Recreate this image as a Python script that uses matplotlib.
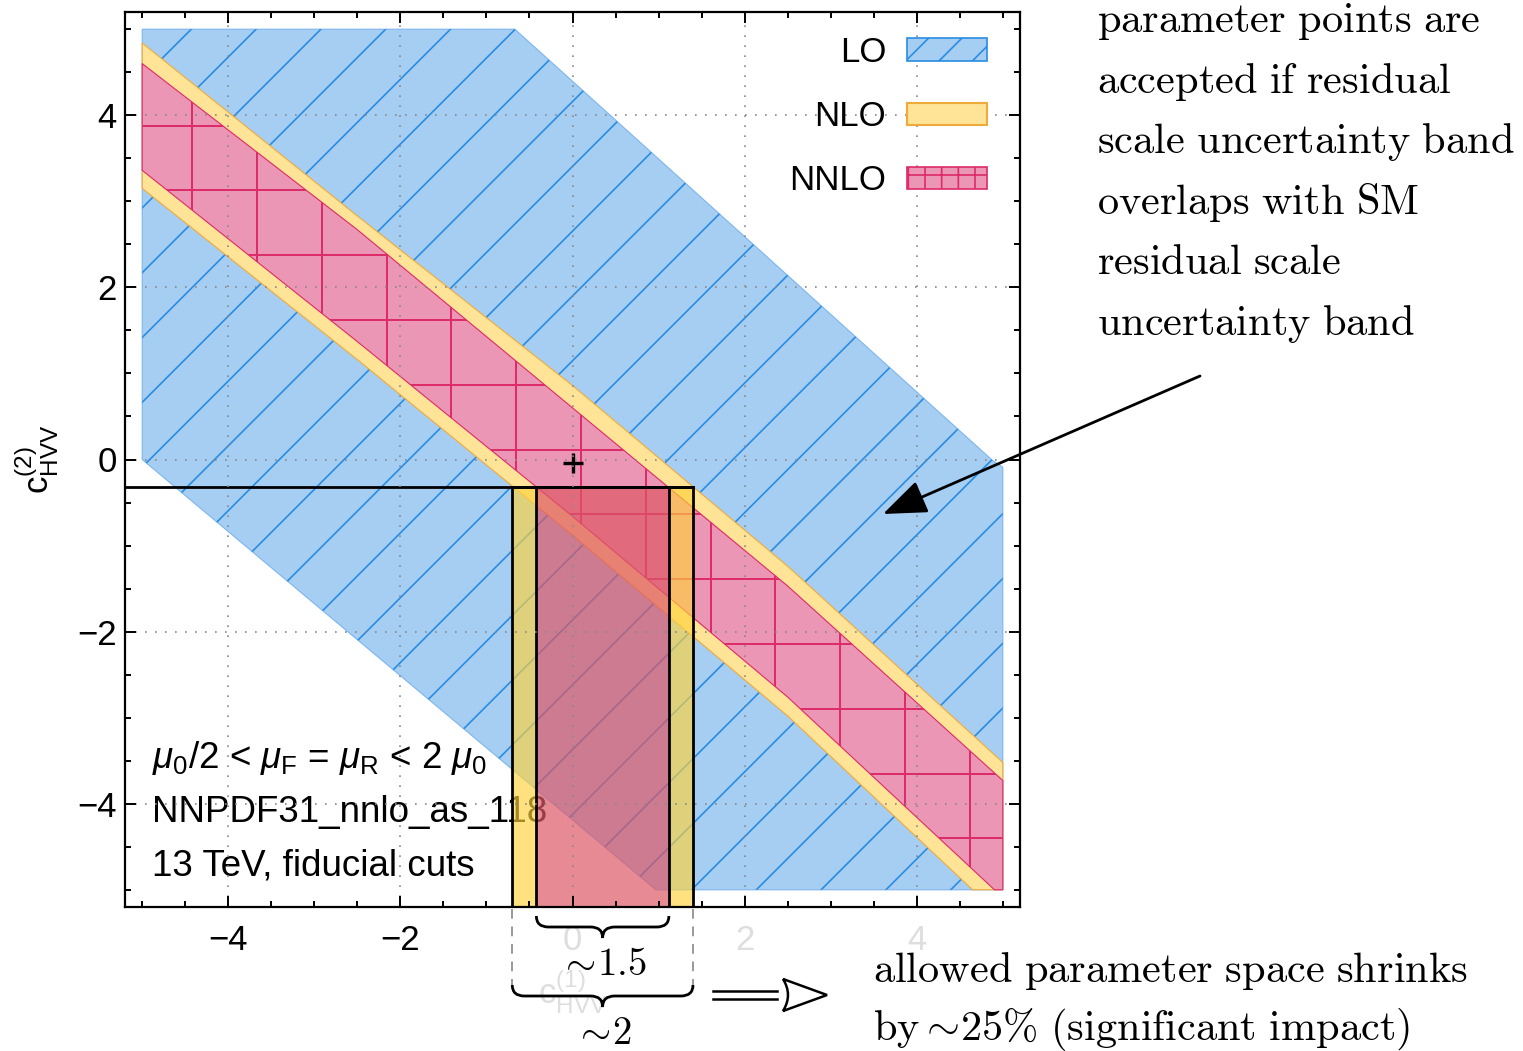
import numpy as np
import matplotlib
matplotlib.use('Agg')
import matplotlib.pyplot as plt
import matplotlib.transforms as mtransforms
from matplotlib.patches import Polygon, Rectangle, PathPatch, Patch
from matplotlib.collections import LineCollection
from matplotlib.path import Path
from matplotlib.transforms import Bbox
from matplotlib.ticker import MultipleLocator

plt.rcParams['font.family'] = ['Liberation Sans', 'DejaVu Sans']
plt.rcParams['mathtext.fontset'] = 'custom'
plt.rcParams['mathtext.rm'] = 'Liberation Sans'
plt.rcParams['mathtext.it'] = 'Liberation Sans:italic'
plt.rcParams['mathtext.bf'] = 'Liberation Sans:bold'
plt.rcParams['hatch.linewidth'] = 1.2

# LO allowed region in the (c1, c2) plane
lo_x = [-5.0, -0.67, 4.88, 5.0, 5.0, 0.97, -5.0]
lo_y = [5.0, 5.0, -0.01, -0.09, -5.0, -5.0, 0.0]

# NLO / NNLO bands, edges sampled along c1
band_x = [-5.0, -2.5, 0.0, 2.5, 5.0]
nlo_upper = [4.84, 2.83, 0.86, -1.24, -3.52]
nnlo_upper = [4.60, 2.67, 0.60, -1.47, -3.73]
nnlo_lower = [3.36, 1.37, -0.66, -2.76, -5.09]
nlo_lower = [3.15, 1.16, -0.88, -2.98, -5.33]

sm_point = (0.0, -0.04)
c2_cut = -0.314
nlo_range = (-0.70, 1.40)
nnlo_range = (-0.42, 1.12)

ticks = [-4, -2, 0, 2, 4]
tick_labels = ['\u22124', '\u22122', '0', '2', '4']

info_lines = [r'$\mu_0$/2 < $\mu_\mathrm{F}$ = $\mu_\mathrm{R}$ < 2 $\mu_0$',
              'NNPDF31_nnlo_as_118',
              '13 TeV, fiducial cuts']
note_lines = ['parameter points are', 'accepted if residual',
              'scale uncertainty band', 'overlaps with SM',
              'residual scale', 'uncertainty band']
result_lines = [r'$\mathrm{allowed\ parameter\ space\ shrinks}$',
                r'$\mathrm{by\sim\!25\%\ (significant\ impact)}$']

LO_FILL, LO_LINE = '#A6CEF3', '#2A8CE0'
NLO_FILL, NLO_LINE = '#FFE397', '#F0AA3A'
NNLO_FILL, NNLO_LINE = '#EC96B5', '#DD2A68'

W, H = 1523, 1051
fig = plt.figure(figsize=(W / 100, H / 100), dpi=100)
ax = fig.add_axes([125 / W, 1 - 907 / H, 895 / W, 895 / H])
ax.set_xlim(-5.2, 5.2)
ax.set_ylim(-5.2, 5.2)
# pixel coordinates measured from the top-left corner of the figure
px = mtransforms.Affine2D().scale(1 / W, -1 / H).translate(0, 1) + fig.transFigure
xpx = mtransforms.blended_transform_factory(ax.transData, px)

box = Bbox([[-5, -5], [5, 5]])


def band_patch(upper, lower, fc, ec):
    verts = list(zip(band_x, upper)) + list(zip(band_x[::-1], lower[::-1]))
    path = Path(verts + [verts[0]], closed=True).clip_to_bbox(box)
    p = PathPatch(path, facecolor=fc, edgecolor=ec, lw=0.8)
    return p


def add_hatch(patch, segs, color, lw, z):
    lc = LineCollection(segs, colors=color, linewidths=lw, zorder=z)
    ax.add_collection(lc)
    lc.set_clip_path(patch)


# LO region with diagonal hatching
lo = Polygon(np.column_stack([lo_x, lo_y]), closed=True, facecolor=LO_FILL,
             edgecolor='#7DB6EC', lw=0.8, zorder=1)
ax.add_patch(lo)
step = 0.753
diag = [[(-6, -6 + c), (6, 6 + c)] for c in np.arange(9.43, -12, -step)]
add_hatch(lo, diag, LO_LINE, 1.2, 1.1)

# NLO band
nlo = band_patch(nlo_upper, nlo_lower, NLO_FILL, NLO_LINE)
nlo.set_zorder(1.2)
ax.add_patch(nlo)

# NNLO band with grid hatching
nnlo = band_patch(nnlo_upper, nnlo_lower, NNLO_FILL, NNLO_LINE)
nnlo.set_zorder(1.3)
ax.add_patch(nnlo)
grid_segs = [[(x, -6), (x, 6)] for x in np.arange(-4.42, 5.5, step)]
grid_segs += [[(-6, y), (6, y)] for y in np.arange(3.88, -5.5, -step)]
add_hatch(nnlo, grid_segs, NNLO_LINE, 1.4, 1.4)

# info text
for i, line in enumerate(info_lines):
    ax.text(0.030, 0.155 - 0.060 * i, line, transform=ax.transAxes,
            fontsize=26.5, va='baseline', ha='left', zorder=2.0)

# allowed c1 ranges at the chosen c2
ybot = -5.2
ax.add_patch(Rectangle((nlo_range[0], ybot), nnlo_range[0] - nlo_range[0],
                       c2_cut - ybot, facecolor='#FFD23C', alpha=0.65,
                       lw=0, zorder=2.1))
ax.add_patch(Rectangle((nnlo_range[1], ybot), nlo_range[1] - nnlo_range[1],
                       c2_cut - ybot, facecolor='#FFD23C', alpha=0.65,
                       lw=0, zorder=2.1))
ax.add_patch(Rectangle((nnlo_range[0], ybot), nnlo_range[1] - nnlo_range[0],
                       c2_cut - ybot, facecolor='#DE5866', alpha=0.7,
                       lw=0, zorder=2.1))
for lo_c, hi_c in (nlo_range, nnlo_range):
    ax.add_patch(Rectangle((lo_c, ybot), hi_c - lo_c, c2_cut - ybot,
                           fill=False, edgecolor='k', lw=2.0, zorder=2.3))
ax.plot([-5.2, nlo_range[1]], [c2_cut, c2_cut], color='k', lw=2.0, zorder=2.3)

ax.plot(*sm_point, marker='+', ms=14, mew=2.4, color='k', zorder=2.4)

# axes styling
ax.set_xticks(ticks, labels=tick_labels)
ax.set_yticks(ticks, labels=tick_labels)
ax.xaxis.set_minor_locator(MultipleLocator(0.5))
ax.yaxis.set_minor_locator(MultipleLocator(0.5))
ax.tick_params(which='both', direction='in', top=True, right=True, width=1.4)
ax.tick_params(which='major', length=8, labelsize=25)
ax.tick_params(which='minor', length=4)
ax.tick_params(axis='x', pad=12)
ax.tick_params(axis='y', pad=6)
for s in ax.spines.values():
    s.set_linewidth(1.6)
ax.grid(True, which='major', ls=(0, (1, 5)), color='#888888', lw=1.2)
ax.set_axisbelow(False)

for lbl, t in zip(ax.get_xticklabels(), ticks):
    if t >= 0:
        lbl.set_color('#dedede')

ax.set_xlabel(r'$\mathrm{c}^{(1)}_\mathrm{HVV}$', fontsize=25, color='#dedede',
              va='top')
ax.xaxis.set_label_coords(0.5, -0.068)
ax.set_ylabel(r'$\mathrm{c}^{(2)}_\mathrm{HVV}$', fontsize=25)
ax.yaxis.set_label_coords(-0.072, 0.5)

handles = [Patch(facecolor=LO_FILL, edgecolor=LO_LINE, hatch='/', lw=1.2),
           Patch(facecolor=NLO_FILL, edgecolor=NLO_LINE, lw=1.5),
           Patch(facecolor=NNLO_FILL, edgecolor=NNLO_LINE, hatch='+', lw=1.2)]
ax.legend(handles, ['LO', 'NLO', 'NNLO'], loc='upper right',
          bbox_to_anchor=(0.963, 0.9735), frameon=False, markerfirst=False,
          fontsize=25, handlelength=2.3, handleheight=0.6, labelspacing=0.9,
          handletextpad=0.6, borderaxespad=0, borderpad=0)

# annotations in Computer Modern
serif = dict(math_fontfamily='cm', va='baseline')


def cm(s):
    return r'$\mathrm{' + s.replace(' ', r'\ ') + '}$'


for i, line in enumerate(note_lines):
    fig.text(1097, 32 + 60.6 * i, cm(line), transform=px, ha='left',
             fontsize=30.5, **serif)
for i, line in enumerate(result_lines):
    fig.text(873, 982 + 58 * i, line, transform=px, ha='left',
             fontsize=30.5, **serif)

ax.annotate('', xy=(883, 514), xytext=(1200, 376), xycoords=px, textcoords=px,
            arrowprops=dict(arrowstyle='-|>,head_length=0.9,head_width=0.35',
                            mutation_scale=30, lw=2, color='k',
                            shrinkA=0, shrinkB=0), annotation_clip=False)


def brace(x0, x1, y, h, r):
    xm = 0.5 * (x0 + x1)
    ym = y + h / 2
    verts = [(x0, y), (x0, ym), (x0 + r, ym), (xm - r, ym), (xm, ym), (xm, y + h),
             (xm, ym), (xm + r, ym), (x1 - r, ym), (x1, ym), (x1, y)]
    codes = [Path.MOVETO, Path.CURVE3, Path.CURVE3, Path.LINETO, Path.CURVE3,
             Path.CURVE3, Path.CURVE3, Path.CURVE3, Path.LINETO, Path.CURVE3,
             Path.CURVE3]
    fig.add_artist(PathPatch(Path(verts, codes), fill=False, lw=2.0,
                             edgecolor='k', transform=xpx))


brace(nnlo_range[0], nnlo_range[1], 916, 22, 0.14)
brace(nlo_range[0], nlo_range[1], 985, 22, 0.14)
for xe in nlo_range:
    fig.add_artist(plt.Line2D([xe, xe], [909, 985], transform=xpx,
                              color='#999999', lw=1.4, ls=(0, (5, 4))))
fig.text(np.mean(nnlo_range), 975, r'$\sim\!1.5$', transform=xpx, ha='center',
         fontsize=28, **serif)
fig.text(np.mean(nlo_range), 1044, r'$\sim\!2$', transform=xpx, ha='center',
         fontsize=28, **serif)

# implication arrow
for yy in (991, 999):
    fig.add_artist(plt.Line2D([713, 777], [yy, yy], transform=px, color='k', lw=1.8))
head = Path([(783, 979), (827, 995), (783, 1011), (793, 995), (783, 979)],
            [Path.MOVETO, Path.LINETO, Path.LINETO, Path.CURVE3, Path.CURVE3])
fig.add_artist(PathPatch(head, fill=False, lw=1.8, edgecolor='k', transform=px))

fig.savefig('out.png', dpi=100)
